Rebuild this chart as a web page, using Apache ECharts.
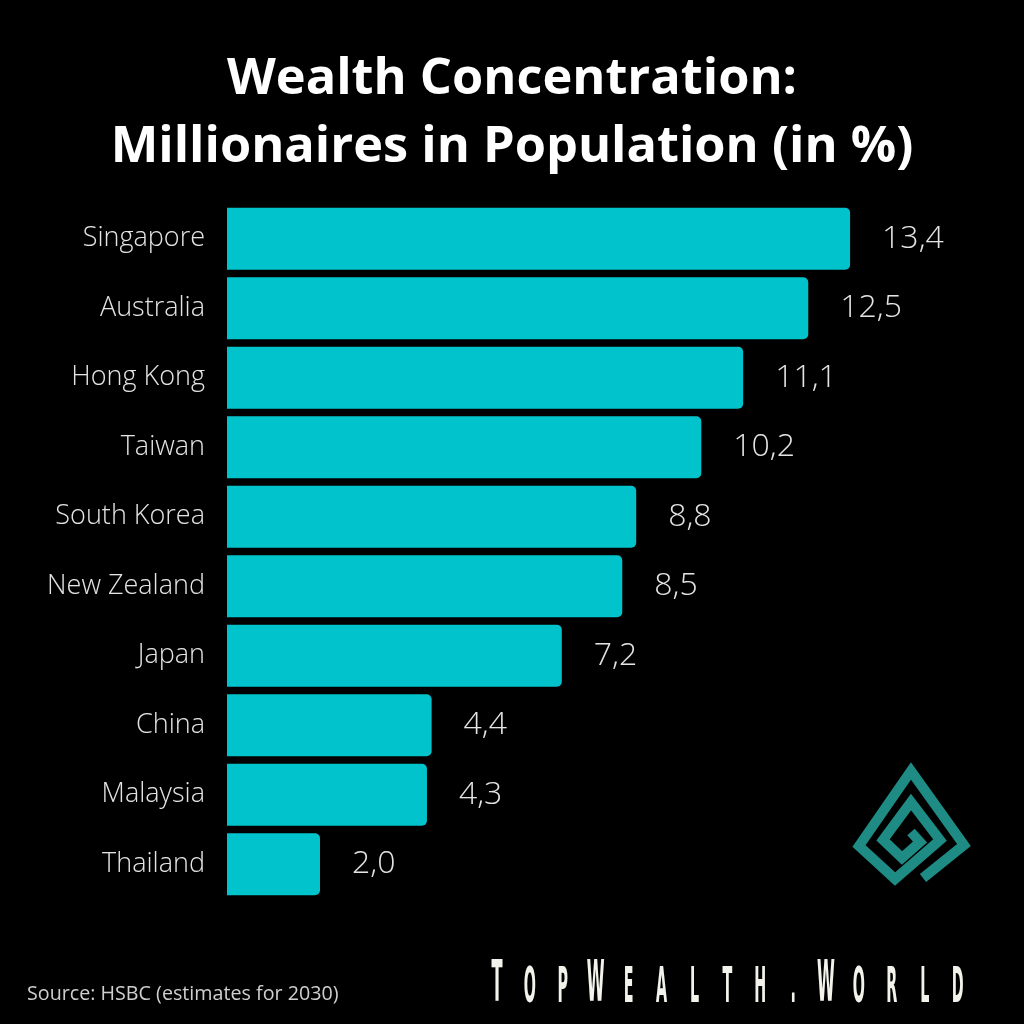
<!DOCTYPE html>
<html>
<head>
<meta charset="utf-8">
<script src="https://cdn.jsdelivr.net/npm/echarts@6/dist/echarts.min.js"></script>
<style>html,body{margin:0;padding:0;background:#000;}#c{width:1024px;height:1024px;}</style>
</head>
<body>
<div id="c"></div>
<script>
const categories = ['Singapore','Australia','Hong Kong','Taiwan','South Korea','New Zealand','Japan','China','Malaysia','Thailand'];
const values = [13.4, 12.5, 11.1, 10.2, 8.8, 8.5, 7.2, 4.4, 4.3, 2.0];
const titleText = 'Wealth Concentration:\nMillionaires in Population (in %)';
const sourceText = 'Source: HSBC (estimates for 2030)';
const brandChars = ['T','O','P','W','E','A','L','T','H','.','W','O','R','L','D'];
const brandBig = [0, 3, 10];

const chart = echarts.init(document.getElementById('c'));

const sx = 0.6, sy = 1.9, cellW = 32.9 / sx;
const fam = '"DejaVu Sans Condensed","DejaVu Sans"';
const rich = {
  b: {fontSize: 30, fontWeight: 'bold', width: cellW, align: 'center', verticalAlign: 'bottom', fontFamily: fam, fill: '#f3f3ec', lineHeight: 30},
  s: {fontSize: 26.5, fontWeight: 'bold', width: cellW, align: 'center', verticalAlign: 'bottom', fontFamily: fam, fill: '#f3f3ec', lineHeight: 30}
};
const brandText = brandChars.map((c, i) => '{' + (brandBig.indexOf(i) >= 0 ? 'b' : 's') + '|' + c + '}').join('');

const logoPts = [
  [923, 878], [964, 845], [911, 771], [859, 846], [895, 879],
  [940, 840], [911, 802], [883, 840], [902, 858], [920, 842], [911, 832]
];

chart.setOption({
  backgroundColor: '#000000',
  title: {
    text: titleText,
    left: 'center',
    top: 41,
    textStyle: {color: '#ffffff', fontSize: 50.5, fontWeight: 'bold', fontFamily: '"Open Sans", sans-serif', lineHeight: 68}
  },
  grid: {left: 227, right: 53, top: 204, height: 695},
  xAxis: {type: 'value', min: 0, max: 16, show: false},
  yAxis: {
    type: 'category', data: categories, inverse: true,
    axisLine: {show: false}, axisTick: {show: false}, splitLine: {show: false},
    axisLabel: {color: '#e4e4e4', fontSize: 27, fontWeight: 300, fontFamily: '"Open Sans", sans-serif', margin: 22, padding: [4, 0, 0, 0]}
  },
  series: [{
    type: 'bar', data: values, barCategoryGap: '11%',
    itemStyle: {color: '#00C3CC', borderRadius: [0, 5, 5, 0]},
    label: {
      show: true, position: 'right', distance: 32,
      color: '#e4e4e4', fontSize: 32, fontWeight: 300, fontFamily: '"Open Sans", sans-serif',
      padding: [3, 0, 0, 0],
      formatter: p => p.value.toFixed(1).replace('.', ',')
    },
    animation: false
  }],
  graphic: [
    {type: 'text', left: 27, top: 984, style: {text: sourceText, fill: '#cfcfcf', fontSize: 19.7, fontFamily: '"Open Sans", sans-serif'}},
    {type: 'group', x: 480.6, y: 958, scaleX: sx, scaleY: sy, children: [
      {type: 'text', x: 0, y: 0, style: {text: brandText, rich: rich, fill: '#f3f3ec', verticalAlign: 'top'}}
    ]},
    {type: 'polyline', shape: {points: logoPts}, style: {stroke: '#1E8C84', lineWidth: 10, fill: null, lineJoin: 'miter'}}
  ]
});
</script>
</body>
</html>
